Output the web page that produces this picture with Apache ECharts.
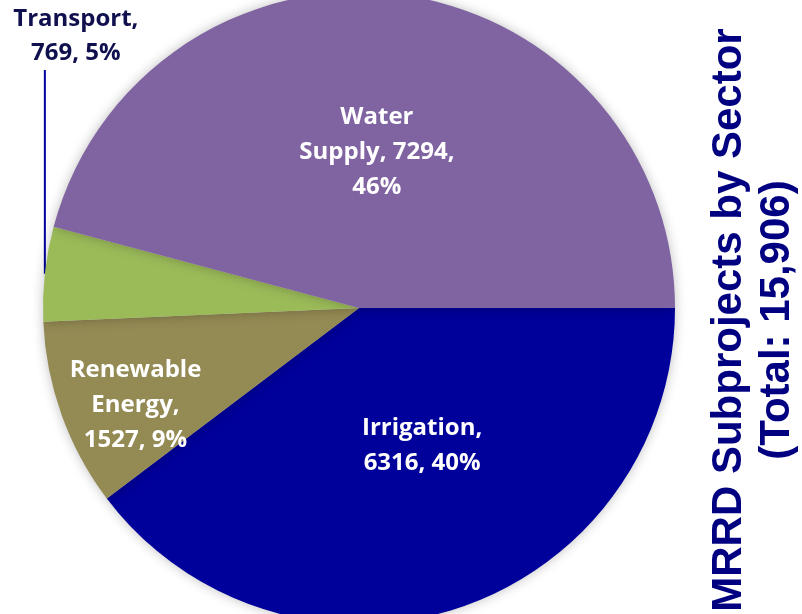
<!DOCTYPE html>
<html>
<head>
<meta charset="utf-8">
<script src="https://cdn.jsdelivr.net/npm/echarts@6/dist/echarts.min.js"></script>
<style>
html,body{margin:0;padding:0;background:#fff;}
#chart{width:802px;height:614px;}
</style>
</head>
<body>
<div id="chart"></div>
<script>
var categories = ['Irrigation', 'Renewable Energy', 'Transport', 'Water Supply'];
var values = [6316, 1527, 769, 7294];
var percents = ['40%', '9%', '5%', '46%'];
var labelNames = ['Irrigation,', 'Renewable\nEnergy,', 'Transport,', 'Water\nSupply,'];
var colors = ['#00009A', '#948A54', '#9BBB59', '#8064A2'];
var titleLines = ['MRRD Subprojects by Sector', '(Total: 15,906)'];

var labelText = [
  labelNames[0] + '\n' + values[0] + ', ' + percents[0],
  labelNames[1] + '\n' + values[1] + ', ' + percents[1],
  labelNames[2] + '\n' + values[2] + ', ' + percents[2],
  labelNames[3] + ' ' + values[3] + ',\n' + percents[3]
];

var data = categories.map(function (c, i) {
  var item = {
    name: c,
    value: values[i],
    itemStyle: { color: colors[i] },
    label: { formatter: labelText[i] }
  };
  if (i === 2) {
    item.label = {
      formatter: labelText[i],
      position: 'outside',
      color: '#10104F',
      fontSize: 24,
      lineHeight: 34
    };
    item.labelLine = { show: true, lineStyle: { color: '#0000A0', width: 2 } };
  }
  return item;
});

var labelShift = { 0: [12, -15], 1: [-72, 43], 3: [-3, 4] };

var chart = echarts.init(document.getElementById('chart'));
chart.setOption({
  backgroundColor: '#ffffff',
  animation: false,
  graphic: [{
    type: 'text',
    x: 753,
    y: 320,
    rotation: Math.PI / 2,
    style: {
      text: titleLines.join('\n'),
      fill: '#000080',
      font: 'bold 42px "Liberation Sans", Arial, sans-serif',
      align: 'center',
      verticalAlign: 'middle',
      lineHeight: 48
    }
  }],
  series: [{
    type: 'pie',
    center: [359, 308],
    radius: [0, 316],
    startAngle: 0,
    clockwise: true,
    avoidLabelOverlap: false,
    itemStyle: {
      shadowBlur: 12,
      shadowColor: 'rgba(0,0,0,0.25)'
    },
    label: {
      show: true,
      position: 'inside',
      color: '#ffffff',
      fontFamily: '"Open Sans", "Noto Sans", sans-serif',
      fontWeight: 'bold',
      fontSize: 24,
      lineHeight: 35,
      align: 'center'
    },
    labelLine: { show: false },
    labelLayout: function (p) {
      if (p.dataIndex === 2 && p.labelLinePoints) {
        var e = p.labelLinePoints[0];
        var top = 70;
        return {
          x: e[0] + 31,
          y: 36,
          align: 'center',
          verticalAlign: 'middle',
          labelLinePoints: [e, [e[0], top], [e[0], top]]
        };
      }
      var s = labelShift[p.dataIndex];
      if (s) {
        return { dx: s[0], dy: s[1] };
      }
    },
    data: data
  }]
});
</script>
</body>
</html>
